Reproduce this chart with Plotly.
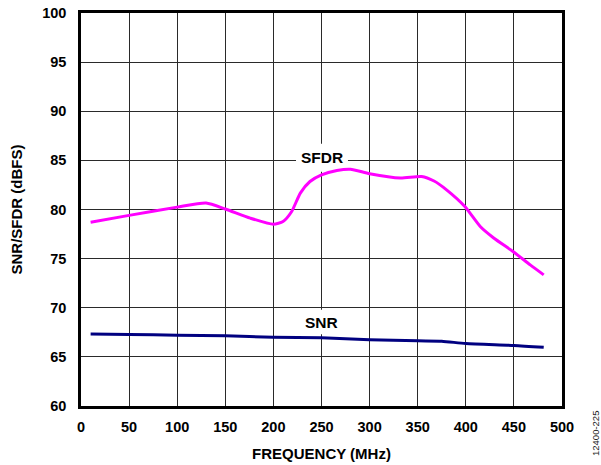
import plotly.graph_objects as go

# Data
sfdr_freq = [10, 50, 100, 130, 150, 176, 200, 210, 219, 228, 238, 250, 266, 280, 300, 332, 354, 367, 380, 399, 415, 429, 449, 467, 481]
sfdr_vals = [78.7, 79.4, 80.24, 80.65, 80.05, 79.12, 78.5, 78.78, 79.8, 81.67, 82.85, 83.53, 83.97, 84.1, 83.64, 83.2, 83.36, 82.9, 82.0, 80.3, 78.27, 77.1, 75.73, 74.36, 73.35]

snr_freq = [10, 50, 100, 150, 200, 250, 300, 350, 375, 400, 450, 481]
snr_vals = [67.34, 67.28, 67.2, 67.14, 67.0, 66.95, 66.75, 66.63, 66.6, 66.35, 66.17, 65.98]

x_ticks = [0, 50, 100, 150, 200, 250, 300, 350, 400, 450, 500]
y_ticks = [60, 65, 70, 75, 80, 85, 90, 95, 100]

FONT = "Liberation Sans, Arial, sans-serif"

fig = go.Figure()
fig.add_trace(go.Scatter(x=sfdr_freq, y=sfdr_vals, mode="lines", name="SFDR",
                         line=dict(color="#FF00FF", width=3, shape="spline", smoothing=0.6)))
fig.add_trace(go.Scatter(x=snr_freq, y=snr_vals, mode="lines", name="SNR",
                         line=dict(color="#000080", width=3, shape="spline", smoothing=0.6)))

# white boxes behind labels (between gridlines and traces)
fig.add_shape(type="rect", x0=223.5, x1=277.5, y0=83.85, y1=86.7, layer="between",
              fillcolor="white", line=dict(width=0))
fig.add_shape(type="rect", x0=228, x1=271, y0=67.3, y1=69.8, layer="between",
              fillcolor="white", line=dict(width=0))

fig.add_annotation(x=250, y=85.3, text="SFDR", showarrow=False,
                   font=dict(family=FONT, size=15.5, color="black", weight="bold"))
fig.add_annotation(x=250, y=68.45, text="SNR", showarrow=False,
                   font=dict(family=FONT, size=15.5, color="black", weight="bold"))

fig.add_annotation(x=1.0, y=0.0, xref="paper", yref="paper", xanchor="center", yanchor="middle",
                   xshift=33, yshift=-28, text="12400-225", textangle=-90, showarrow=False,
                   font=dict(family=FONT, size=9.5, color="#222"))

fig.update_layout(
    width=601, height=465,
    margin=dict(l=81, r=39, t=13, b=59, autoexpand=False),
    paper_bgcolor="white", plot_bgcolor="white",
    showlegend=False,
    font=dict(family=FONT, color="black"),
)
fig.update_xaxes(range=[0, 500], tickvals=x_ticks, ticktext=[str(v) for v in x_ticks],
                 showgrid=True, gridcolor="#2a2a2a", gridwidth=1.3,
                 showline=True, linecolor="black", linewidth=2.5, mirror=True,
                 ticks="", ticklabelstandoff=6, zeroline=False, automargin=False,
                 tickfont=dict(family=FONT, size=14.5, weight="bold", color="black"),
                 title=dict(text="FREQUENCY (MHz)", standoff=15,
                            font=dict(family=FONT, size=15, weight="bold", color="black")))
fig.update_yaxes(range=[60, 100], tickvals=y_ticks, ticktext=[str(v) for v in y_ticks],
                 showgrid=True, gridcolor="#2a2a2a", gridwidth=1.3,
                 showline=True, linecolor="black", linewidth=2.5, mirror=True,
                 ticks="", ticklabelstandoff=9, zeroline=False, automargin=False,
                 tickfont=dict(family=FONT, size=14.5, weight="bold", color="black"),
                 title=dict(text="SNR/SFDR (dBFS)", standoff=16,
                            font=dict(family=FONT, size=15, weight="bold", color="black")))

fig.write_html("out.html", config={"displayModeBar": False},
               post_script="document.body.style.margin='0px';")
